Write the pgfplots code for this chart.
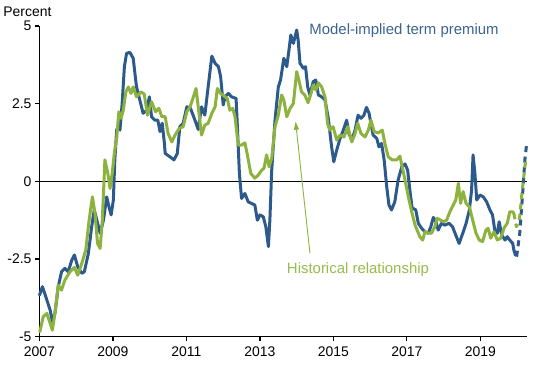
\documentclass[border=0pt]{standalone}
\usepackage{fontspec}
\setmainfont{Liberation Sans}
\usepackage{pgfplots}
\pgfplotsset{compat=1.18}
\usetikzlibrary{arrows.meta}
\definecolor{tpblue}{RGB}{44,90,140}
\definecolor{tpgreen}{RGB}{141,178,62}
\definecolor{tpbluetext}{RGB}{58,99,145}
\definecolor{tpgreentext}{RGB}{150,188,75}
\begin{document}
\begin{tikzpicture}
\begin{axis}[
  scale only axis, width=487.2bp, height=310.7bp,
  xmin=2007, xmax=2020.26, ymin=-5, ymax=5,
  axis x line*=bottom, axis y line*=left,
  x axis line style={-}, y axis line style={-},
  axis line style={line width=1.1bp, black},
  xtick={2007,2009,2011,2013,2015,2017,2019},
  xticklabels={2007,2009,2011,2013,2015,2017,2019},
  ytick={-5,-2.5,0,2.5,5}, yticklabels={-5,-2.5,0,2.5,5},
  tick align=outside, major tick length=4.5bp,
  tick style={black, line width=1.1bp},
  /pgf/number format/assume math mode=true,
  tick label style={font=\fontsize{14}{16}\selectfont},
  xticklabel style={yshift=-2.5bp},
  clip=false,
  every axis plot/.append style={line width=3bp, line join=round, line cap=round},
]
\coordinate (SW) at (rel axis cs:0,0);
\draw[black, line width=1.1bp] (axis cs:2007,0) -- (axis cs:2020.26,0);

% Model-implied term premium (solid)
\addplot[tpblue] coordinates {
(2007.00,-3.66) (2007.08,-3.39) (2007.20,-3.82) (2007.29,-4.14) (2007.35,-4.52)
(2007.42,-4.25) (2007.51,-3.39) (2007.60,-2.91) (2007.69,-2.80) (2007.78,-2.91)
(2007.88,-2.53) (2007.95,-2.37) (2008.04,-2.75) (2008.15,-2.96) (2008.22,-2.91)
(2008.33,-2.32) (2008.42,-1.46) (2008.49,-0.92) (2008.56,-1.25) (2008.65,-1.67)
(2008.74,-1.25) (2008.83,-0.50) (2008.89,-0.82) (2008.95,-1.08) (2009.01,-0.60)
(2009.05,0.69) (2009.10,1.65) (2009.14,1.76) (2009.19,1.65) (2009.25,2.51)
(2009.31,3.69) (2009.37,4.12) (2009.46,4.15) (2009.55,3.96) (2009.64,3.04)
(2009.73,2.62) (2009.82,2.19) (2009.92,2.29) (2009.99,2.72) (2010.05,2.08)
(2010.14,1.97) (2010.22,1.97) (2010.28,1.60) (2010.34,1.87) (2010.40,1.22)
(2010.42,0.90) (2010.55,0.79) (2010.66,0.69) (2010.75,0.90) (2010.82,1.76)
(2010.91,1.87) (2011.01,2.40) (2011.11,2.35) (2011.23,1.97) (2011.32,1.67)
(2011.41,2.40) (2011.50,2.13) (2011.59,3.04) (2011.69,4.03) (2011.78,3.80)
(2011.87,3.69) (2011.93,3.37) (2012.00,2.46) (2012.05,2.72) (2012.14,2.83)
(2012.23,2.72) (2012.35,2.67) (2012.39,1.65) (2012.44,0.26) (2012.50,-0.55)
(2012.59,-0.39) (2012.68,-0.66) (2012.77,-0.71) (2012.86,-0.76) (2012.93,-1.25)
(2013.00,-1.08) (2013.09,-1.14) (2013.16,-1.46) (2013.23,-2.10) (2013.27,-1.25)
(2013.32,0.36) (2013.41,1.97) (2013.50,3.04) (2013.56,3.26) (2013.65,3.96)
(2013.73,3.69) (2013.79,4.23) (2013.84,4.71) (2013.91,4.44) (2014.00,4.87)
(2014.04,4.55) (2014.09,3.80) (2014.18,3.64) (2014.24,3.69) (2014.30,3.04)
(2014.36,2.78) (2014.45,3.21) (2014.52,3.26) (2014.59,2.78) (2014.68,2.72)
(2014.77,2.62) (2014.86,2.03) (2014.95,1.11) (2015.01,0.63) (2015.09,1.01)
(2015.18,1.38) (2015.27,1.65) (2015.36,1.97) (2015.42,1.54) (2015.50,1.33)
(2015.59,1.65) (2015.67,2.13) (2015.75,2.03) (2015.83,2.13) (2015.90,2.38)
(2015.97,2.19) (2016.02,1.87) (2016.08,1.49) (2016.18,1.38) (2016.24,1.11)
(2016.31,1.22) (2016.38,0.69) (2016.45,-0.17) (2016.51,-0.76) (2016.58,-0.92)
(2016.67,-0.66) (2016.76,0.04) (2016.86,0.47) (2016.95,0.56) (2017.02,0.36)
(2017.08,-0.28) (2017.14,-0.85) (2017.24,-0.92) (2017.31,-1.35) (2017.40,-1.51)
(2017.49,-1.62) (2017.58,-1.67) (2017.65,-1.46) (2017.72,-1.16) (2017.79,-1.30)
(2017.85,-1.57) (2017.94,-1.35) (2018.03,-1.41) (2018.15,-1.35) (2018.24,-1.46)
(2018.33,-1.73) (2018.42,-2.00) (2018.52,-1.67) (2018.61,-1.35) (2018.70,-0.92)
(2018.76,-0.28) (2018.80,0.85) (2018.85,0.26) (2018.90,-0.60) (2018.99,-0.44)
(2019.08,-0.50) (2019.17,-0.66) (2019.26,-0.92) (2019.33,-1.08) (2019.39,-1.57)
(2019.46,-1.67) (2019.51,-1.30) (2019.58,-1.73) (2019.67,-1.89) (2019.73,-1.78)
(2019.80,-1.89) (2019.88,-2.00) (2019.91,-2.21)
};
% Model-implied term premium (dashed)
\addplot[tpblue, dash pattern=on 6bp off 4.5bp, line cap=butt] coordinates {
(2019.91,-2.21) (2019.98,-2.48) (2020.07,-1.67) (2020.15,-0.39) (2020.21,0.69) (2020.26,1.22)
};

% Historical relationship (solid)
\addplot[tpgreen] coordinates {
(2007.01,-4.84) (2007.10,-4.36) (2007.20,-4.25) (2007.29,-4.57) (2007.35,-4.79)
(2007.42,-4.25) (2007.51,-3.34) (2007.60,-3.50) (2007.69,-3.18) (2007.83,-2.91)
(2007.95,-2.77) (2008.04,-3.02) (2008.15,-2.64) (2008.26,-2.21) (2008.35,-1.25)
(2008.44,-0.50) (2008.51,-1.03) (2008.58,-2.00) (2008.65,-2.16) (2008.71,-1.25)
(2008.78,0.69) (2008.86,0.26) (2008.92,-0.23) (2008.98,0.26) (2009.04,0.95)
(2009.10,1.38) (2009.16,2.24) (2009.22,2.03) (2009.28,2.29) (2009.35,2.88)
(2009.42,3.04) (2009.49,2.83) (2009.55,3.04) (2009.64,2.72) (2009.76,2.88)
(2009.85,2.81) (2009.94,2.13) (2010.05,2.56) (2010.16,2.24) (2010.25,2.35)
(2010.33,2.08) (2010.42,2.08) (2010.50,1.54) (2010.60,1.27) (2010.69,1.49)
(2010.80,1.70) (2010.91,1.76) (2011.01,2.24) (2011.10,2.40) (2011.19,2.72)
(2011.26,2.99) (2011.32,2.40) (2011.41,1.49) (2011.50,1.81) (2011.59,1.87)
(2011.69,2.19) (2011.78,2.40) (2011.84,2.99) (2011.93,2.83) (2012.02,2.75)
(2012.11,2.67) (2012.18,2.29) (2012.26,2.35) (2012.32,2.08) (2012.41,1.17)
(2012.50,1.17) (2012.59,1.24) (2012.65,0.90) (2012.75,0.26) (2012.86,0.10)
(2012.95,0.20) (2013.05,0.36) (2013.11,0.42) (2013.18,0.85) (2013.25,0.47)
(2013.32,0.74) (2013.41,1.76) (2013.50,2.13) (2013.59,2.78) (2013.65,2.62)
(2013.73,2.08) (2013.82,2.35) (2013.91,2.51) (2014.00,3.53) (2014.06,3.26)
(2014.13,2.88) (2014.22,2.78) (2014.31,2.53) (2014.39,2.83) (2014.45,3.10)
(2014.52,2.94) (2014.59,3.17) (2014.68,3.04) (2014.77,2.72) (2014.84,1.87)
(2014.90,1.65) (2014.99,1.76) (2015.09,1.33) (2015.18,1.49) (2015.29,1.43)
(2015.39,1.76) (2015.50,1.27) (2015.59,1.54) (2015.66,1.87) (2015.75,1.54)
(2015.86,1.43) (2015.95,1.65) (2016.02,1.97) (2016.11,1.60) (2016.22,1.56)
(2016.33,1.65) (2016.40,1.22) (2016.49,0.79) (2016.60,0.69) (2016.72,0.69)
(2016.81,0.81) (2016.87,0.47) (2016.95,0.04) (2017.04,-0.50) (2017.13,-0.98)
(2017.22,-1.40) (2017.35,-1.78) (2017.43,-1.89) (2017.49,-1.62) (2017.58,-1.67)
(2017.67,-1.67) (2017.76,-1.46) (2017.82,-1.19) (2017.92,-1.25) (2017.99,-1.30)
(2018.08,-1.25) (2018.17,-0.98) (2018.26,-0.76) (2018.33,-0.60) (2018.40,-0.06)
(2018.46,-0.71) (2018.53,-0.33) (2018.61,-0.71) (2018.70,-0.82) (2018.79,-1.25)
(2018.88,-1.67) (2018.97,-1.89) (2019.06,-1.94) (2019.15,-1.57) (2019.21,-1.51)
(2019.28,-1.83) (2019.37,-1.62) (2019.46,-1.89) (2019.55,-1.83) (2019.64,-1.51)
(2019.73,-1.35) (2019.80,-0.98) (2019.88,-0.98) (2019.91,-1.03)
};
% Historical relationship (dashed)
\addplot[tpgreen, dash pattern=on 6bp off 4.5bp, line cap=butt] coordinates {
(2019.91,-1.03) (2019.98,-1.46) (2020.06,-1.25) (2020.13,-0.39) (2020.21,0.47) (2020.25,0.74)
};

\draw[tpgreen, line width=0.9bp, -{Triangle[length=8bp,width=5bp]}]
  (axis cs:2014.36,-2.31) -- (axis cs:2013.97,1.92);
\node[anchor=base west, inner sep=0, font=\fontsize{14}{16}\selectfont]
  at (axis cs:2006.01,5.30) {Percent};
\node[anchor=base west, inner sep=0, text=tpbluetext, font=\fontsize{15}{17}\selectfont]
  at (axis cs:2014.34,4.74) {Model-implied term premium};
\node[anchor=base west, inner sep=0, text=tpgreentext, font=\fontsize{15}{17}\selectfont]
  at (axis cs:2013.73,-2.96) {Historical relationship};
\end{axis}
\pgfresetboundingbox
\path (SW) ++(-39.5bp,-28.3bp) rectangle ++(550bp,365bp);
\end{tikzpicture}
\end{document}
